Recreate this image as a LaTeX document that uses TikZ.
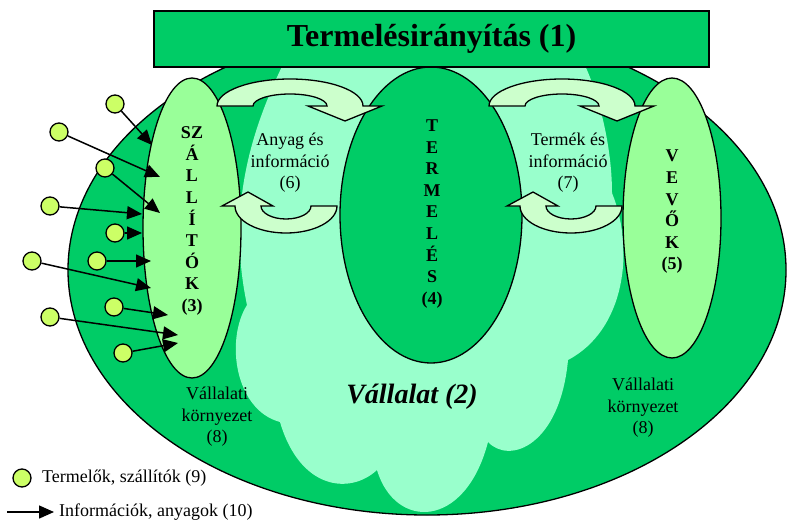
\documentclass[tikz,border=0pt]{standalone}
\usepackage{fontspec}
\setmainfont{Liberation Serif}
\usetikzlibrary{shapes.geometric,arrows.meta}
\definecolor{EnvGreen}{HTML}{00CC66}
\definecolor{FirmAqua}{HTML}{99FFCC}
\definecolor{PartnerGreen}{HTML}{99FF99}
\definecolor{FlowGreen}{HTML}{CCFFCC}
\definecolor{SupplierDot}{HTML}{CCFF66}
\newcommand{\titlefont}{\fontsize{32}{38}\selectfont\bfseries}
\newcommand{\firmfont}{\fontsize{28}{34}\selectfont\bfseries\itshape}
\newcommand{\bodyfont}{\fontsize{18}{21.6}\selectfont}
\tikzset{
  >={Triangle[length=15pt,width=13pt]},
  outline/.style={draw=black, line width=1.3pt},
  unit/.style={ellipse, outline, inner sep=0pt},
  stack/.style={font=\bodyfont\bfseries, align=center, inner sep=0pt},
  caption/.style={font=\bodyfont, align=center, inner sep=0pt},
  flow/.style={fill=FlowGreen, outline, line join=miter},
  dot/.style={circle, fill=SupplierDot, outline, minimum size=18pt, inner sep=0pt},
  feed/.style={->, line width=1.5pt},
}
%% curved flow arrows (head at the right, pointing down / head at the left, pointing up)
\newcommand{\flowdown}[1]{%
  \draw[flow] ({#1-73},106) arc[start angle=180, end angle=360, x radius=73, y radius=27]
    -- ({#1+92},106) -- ({#1+55},121) -- ({#1+18},106) -- ({#1+37},106)
    arc[start angle=360, end angle=180, x radius=37, y radius=12] -- cycle;}
\newcommand{\flowup}[1]{%
  \draw[flow] ({#1-51},206) arc[start angle=180, end angle=0, x radius=51, y radius=27]
    -- ({#1+25},206) arc[start angle=0, end angle=180, x radius=25, y radius=13]
    -- ({#1-13},206) -- ({#1-38},192) -- ({#1-64},206) -- cycle;}

\begin{document}
\begin{tikzpicture}[x=1pt,y=-1pt]
  \useasboundingbox (0,0) rectangle (787,522);

  %% Vallalati kornyezet
  \node[unit, fill=EnvGreen, minimum width=718pt, minimum height=490pt] (env) at (427,270) {};

  %% Vallalat (cloud)
  \fill[FirmAqua] (290,50) .. controls (255,120) and (225,200) .. (247,305)
    .. controls (225,340) and (235,410) .. (280,422)
    .. controls (300,490) and (350,495) .. (377,470)
    .. controls (395,530) and (465,530) .. (488,442)
    .. controls (510,465) and (560,445) .. (568,360)
    .. controls (625,330) and (635,250) .. (612,193)
    .. controls (612,140) and (595,80) .. (577,50) -- cycle;

  %% partners and production
  \node[unit, fill=PartnerGreen, minimum width=98pt, minimum height=300pt] (szall) at (192,228) {};
  \node[unit, fill=EnvGreen, minimum width=182pt, minimum height=296pt] (term) at (431,215) {};
  \node[unit, fill=PartnerGreen, minimum width=98pt, minimum height=280pt] (vevo) at (672,218) {};

  \node[stack] (szalltext) at (192,221) {SZ\\Á\\L\\L\\Í\\T\\Ó\\K\\(3)};
  \node[stack] (termtext) at (432,214) {T\\E\\R\\M\\E\\L\\É\\S\\(4)};
  \node[stack] (vevotext) at (672,212) {V\\E\\V\\Ő\\K\\(5)};

  %% flows
  \flowdown{290}
  \flowup{286}
  \flowdown{562}
  \flowup{571}
  \node[caption] (flow6) at (290,163) {Anyag és\\információ\\(6)};
  \node[caption] (flow7) at (568,163) {Termék és\\információ\\(7)};

  %% labels
  \node[caption] (envleft) at (217,417) {Vállalati\\környezet\\(8)};
  \node[caption] (envright) at (643,408) {Vállalati\\környezet\\(8)};
  \node[font=\firmfont] (firm) at (412,397) {Vállalat (2)};

  %% Termelesiranyitas
  \node[outline, fill=EnvGreen, minimum width=555pt, minimum height=56pt, font=\titlefont] (ctrl) at (431.5,39) {Termelésirányítás (1)};

  %% suppliers
  \foreach \i/\cx/\cy/\tx/\ty in {1/115/104/152/145, 2/59/132/160/177, 3/105/168/160/213,
      4/50/206/142/214, 5/115/233/142/233, 6/97/261/151/261, 7/32/261/151/288,
      8/114/307/168/315, 9/50/317/178/335, 10/123/353/178/343}{
    \coordinate (tip\i) at (\tx,\ty);
    \node[dot] (sup\i) at (\cx,\cy) {};
    \draw[feed] (sup\i) -- (tip\i);
  }

  %% legend
  \node[dot] (keydot) at (22,478) {};
  \node[caption, anchor=west] (keydottext) at (42,478) {Termelők, szállítók (9)};
  \coordinate (keyfrom) at (7,512);
  \node[caption, anchor=west] (keyarrowtext) at (59,512) {Információk, anyagok (10)};
  \draw[feed, shorten >=5pt] (keyfrom) -- (keyarrowtext.west);
\end{tikzpicture}
\end{document}
